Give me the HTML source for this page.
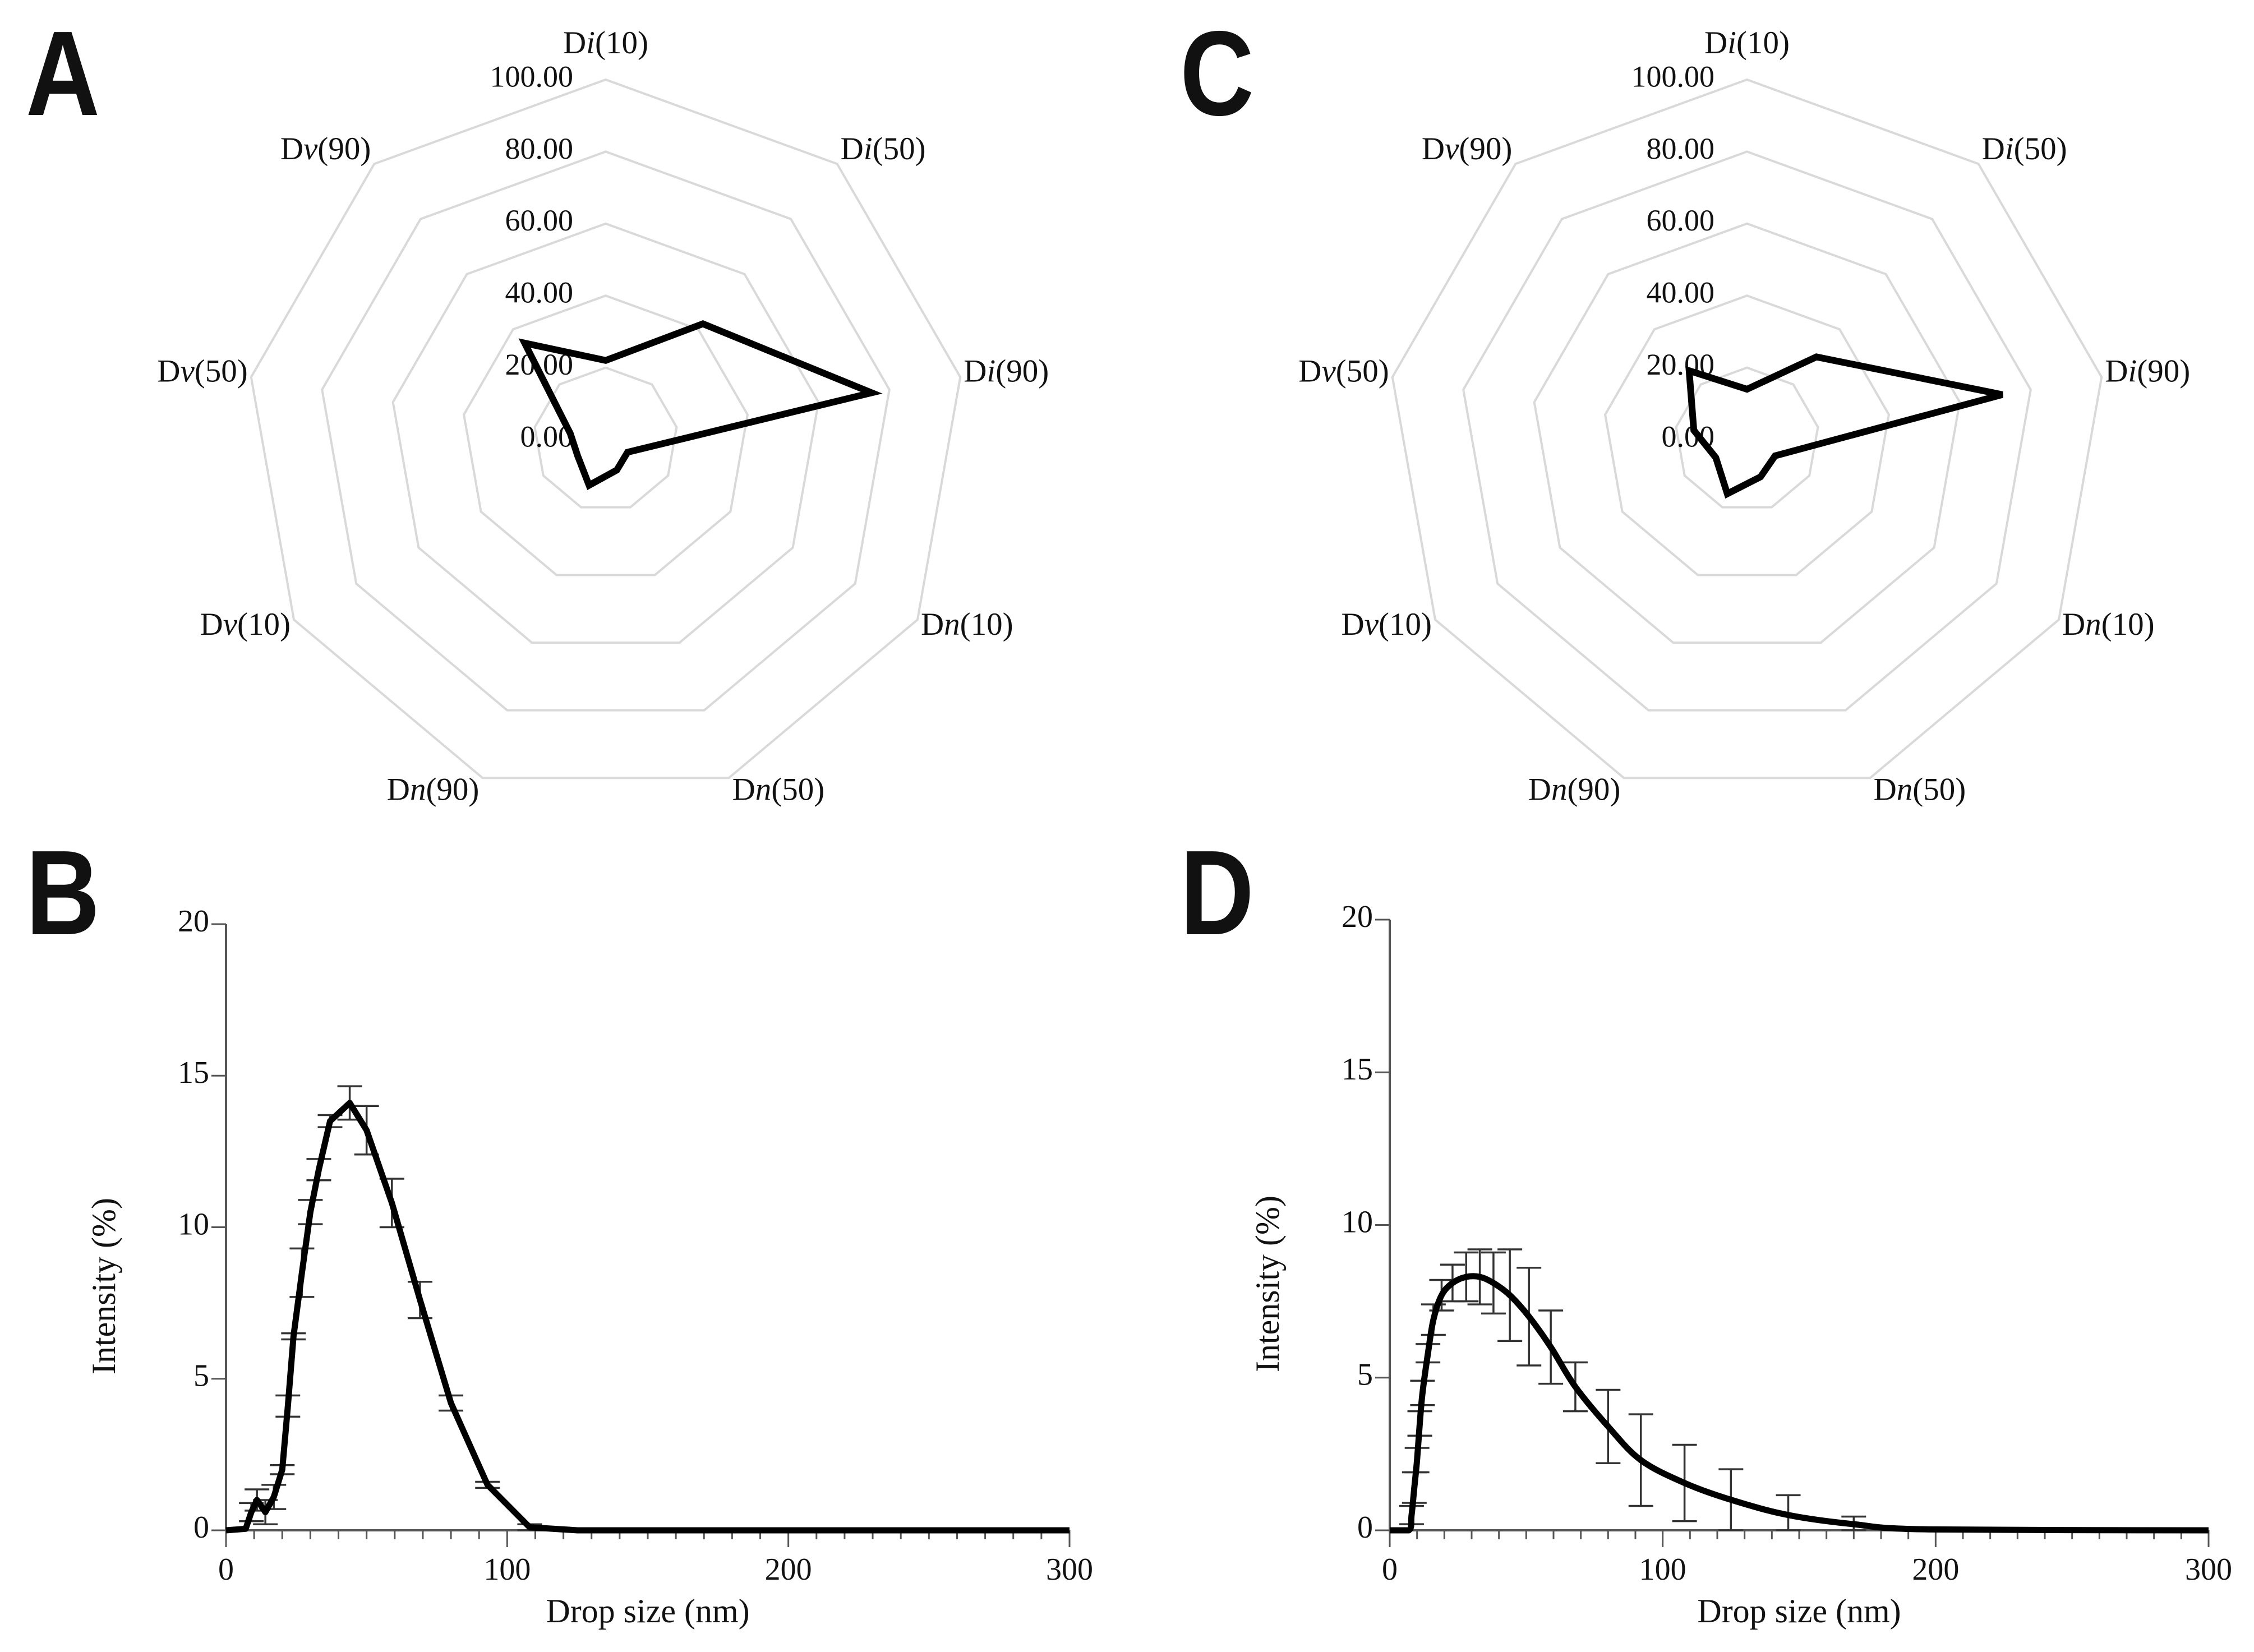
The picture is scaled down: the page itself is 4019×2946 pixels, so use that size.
<!DOCTYPE html>
<html><head><meta charset="utf-8"><style>
html,body{margin:0;padding:0;background:#fff}
svg{display:block}
text{font-family:"Liberation Serif",serif;fill:#111}
.pl{font-family:'Liberation Sans',sans-serif;font-weight:bold;font-size:215px}
</style></head><body>
<svg id="fig" width="4019" height="2946" viewBox="0 0 4019 2946" xmlns="http://www.w3.org/2000/svg">
<rect width="4019" height="2946" fill="#fff"/>
<text class="pl" transform="translate(46 205) scale(0.85 1)">A</text>
<text class="pl" transform="translate(46 1666) scale(0.85 1)">B</text>
<text class="pl" transform="translate(2104 205) scale(0.85 1)">C</text>
<text class="pl" transform="translate(2104 1666) scale(0.85 1)">D</text>
<g id="gA"></g>
<g id="gC"></g>
<g id="gB"></g>
<g id="gD"></g>
</svg>
<script>
// Radar data
const radarAxes = ["i(10)","i(50)","i(90)","n(10)","n(50)","n(90)","v(10)","v(50)","v(90)"];
const radarTicks = [0,20,40,60,80,100];
const radarA = [22,42,75,7,9,13.5,9,10,35];
const radarC = [14,30,72,9,11,16,10,15,25];
// Line chart data
const xTicks = [0,100,200,300];
const yTicks = [0,5,10,15,20];
const bX = [0,7,9,11,14,17,20,22,24,27,30,33,37,44,50,59,69,80,93,108,125,300];
const bY = [0,0.05,0.6,1.0,0.6,1.1,2.0,4.1,6.4,8.5,10.5,11.9,13.5,14.1,13.2,10.8,7.6,4.2,1.5,0.1,0,0];
const bErr = [0,0,0.3,0.35,0.4,0.4,0.15,0.35,0.1,0.8,0.4,0.35,0.2,0.55,0.8,0.8,0.6,0.25,0.1,0.1,0,0];
const dX = [0,7,8,9,10,11,12,14,16,19,23,28,33,38,44,51,59,68,80,92,108,125,146,170,198,300];
const dY = [0,0,0.5,1.4,2.3,3.5,4.5,5.8,6.9,7.7,8.1,8.3,8.3,8.1,7.7,7.0,6.0,4.7,3.4,2.3,1.55,1.0,0.5,0.2,0.03,0];
const dErr = [0,0,0.3,0.5,0.4,0.4,0.4,0.3,0.5,0.5,0.6,0.8,0.9,1.0,1.5,1.6,1.2,0.8,1.2,1.5,1.25,1.0,0.65,0.25,0,0];

const NS="http://www.w3.org/2000/svg";
function mk(tag,attrs,parent){const e=document.createElementNS(NS,tag);for(const k in attrs)e.setAttribute(k,attrs[k]);parent.appendChild(e);return e;}

function radar(g,cx,cy,R,vals,key){
  const n=radarAxes.length;
  const pt=(k,v)=>{const a=k*2*Math.PI/n;return [cx+R*v/100*Math.sin(a),cy-R*v/100*Math.cos(a)];};
  radarTicks.forEach(t=>{
    if(t>0){
      const pts=[];for(let k=0;k<n;k++)pts.push(pt(k,t).join(","));
      const p=mk("polygon",{points:pts.join(" "),fill:"none",stroke:"#d9d9d9","stroke-width":4},g);
      
      
    }
  });
  radarTicks.forEach(t=>{
    const tx=mk("text",{x:cx-58,y:cy-R*t/100,"text-anchor":"end","dominant-baseline":"middle","font-size":"54"},g);
    tx.textContent=t.toFixed(2);
    
    
  });
  radarAxes.forEach((lab,k)=>{
    const a=k*2*Math.PI/n;const [vx,vy]=pt(k,100);
    let x=vx,anchor="middle",y=vy-Math.cos(a)*28;
    if(k===0){y=vy-60;}
    else if(Math.sin(a)>0.01){x=vx+6;anchor="start";}
    else {x=vx-6;anchor="end";}
    const tx=mk("text",{x:x,y:y,"text-anchor":anchor,"dominant-baseline":"middle","font-size":"57"},g);
    
    
    const t1=mk("tspan",{},tx);t1.textContent="D";
    const t2=mk("tspan",{"font-style":"italic"},tx);t2.textContent=lab[0];
    const t3=mk("tspan",{},tx);t3.textContent=lab.slice(1);
  });
  const pts=vals.map((v,k)=>pt(k,v).join(","));
  const poly=mk("polygon",{points:pts.join(" "),fill:"none",stroke:"#000","stroke-width":12,"stroke-linejoin":"miter"},g);
  
  
}
radar(document.getElementById("gA"),1080,784,642,radarA,"a");
radar(document.getElementById("gC"),3115,784,642,radarC,"c");

function chart(g,X0,X1,Y0,Y20,xs,ys,errs,smooth,key){
  const sx=v=>X0+(X1-X0)*v/300, sy=v=>Y0+(Y20-Y0)*v/20;
  const ax=mk("path",{d:`M${X0},${Y20}V${Y0}H${X1}`,fill:"none",stroke:"#555","stroke-width":4},g);
  
  
  for(let v=0;v<=300;v+=10){
    const major=v%100===0;
    const t=mk("line",{x1:sx(v),x2:sx(v),y1:Y0,y2:Y0+(major?30:16),stroke:"#555","stroke-width":3},g);
    
    
  }
  xTicks.forEach(v=>{
    const t=mk("text",{x:sx(v),y:Y0+75,"text-anchor":"middle","dominant-baseline":"middle","font-size":"56"},g);
    t.textContent=v;
    
    
  });
  yTicks.forEach(v=>{
    const l=mk("line",{x1:X0-26,x2:X0,y1:sy(v),y2:sy(v),stroke:"#555","stroke-width":3},g);
    
    
    const t=mk("text",{x:X0-30,y:sy(v),"text-anchor":"end","dominant-baseline":"middle","font-size":"56"},g);
    t.textContent=v;
    
    
  });
  const xt=mk("text",{x:(X0+X1)/2,y:Y0+150,"text-anchor":"middle","dominant-baseline":"middle","font-size":"60"},g);
  xt.textContent="Drop size (nm)";
  
  
  const yx=X0-212, yy=(Y0+Y20)/2+105;
  const yt=mk("text",{x:yx,y:yy,"text-anchor":"middle","dominant-baseline":"middle","font-size":"60",transform:`rotate(-90 ${yx} ${yy})`},g);
  yt.textContent="Intensity (%)";
  
  
  xs.forEach((x,i)=>{
    if(errs[i]<=0)return;
    const cx=sx(x),a=sy(Math.max(0,ys[i]-errs[i])),b=sy(ys[i]+errs[i]);
    const e=mk("path",{d:`M${cx},${a}V${b}M${cx-22},${a}H${cx+22}M${cx-22},${b}H${cx+22}`,stroke:"#333","stroke-width":3.5,fill:"none"},g);
    
    
  });
  const P=xs.map((x,i)=>[sx(x),sy(ys[i])]);
  let d="M"+P[0].join(",");
  if(smooth){
    for(let i=0;i<P.length-1;i++){
      const p0=P[Math.max(0,i-1)],p1=P[i],p2=P[i+1],p3=P[Math.min(P.length-1,i+2)];
      const c1=[p1[0]+(p2[0]-p0[0])/6,p1[1]+(p2[1]-p0[1])/6],c2=[p2[0]-(p3[0]-p1[0])/6,p2[1]-(p3[1]-p1[1])/6];
      c1[1]=Math.min(c1[1],Y0);c2[1]=Math.min(c2[1],Y0);
      d+=`C${c1.join(",")} ${c2.join(",")} ${p2.join(",")}`;
    }
  } else { for(let i=1;i<P.length;i++)d+="L"+P[i].join(","); }
  const line=mk("path",{d:d,fill:"none",stroke:"#000","stroke-width":11,"stroke-linejoin":"round"},g);
  
  
}
chart(document.getElementById("gB"),403,1907,2729,1648,bX,bY,bErr,false,"b");
chart(document.getElementById("gD"),2478,3938,2729,1640,dX,dY,dErr,true,"d");
</script>
</body></html>
